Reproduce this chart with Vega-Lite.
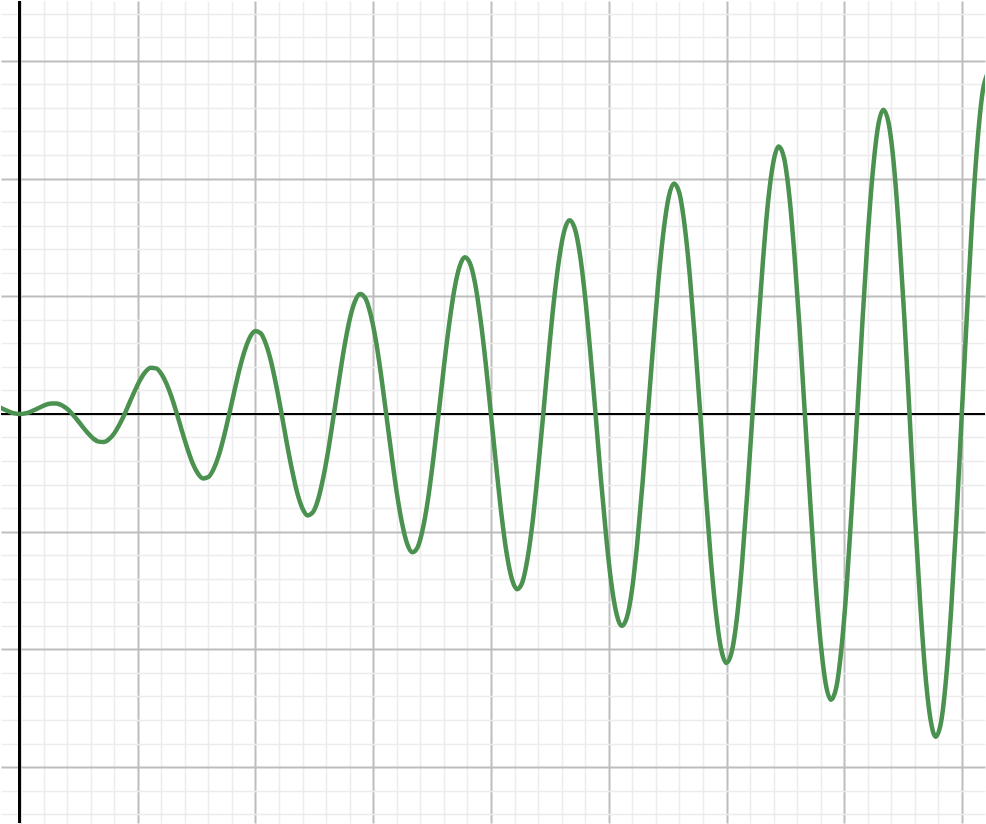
{
"$schema": "https://vega.github.io/schema/vega-lite/v6.json",
"width": 986, "height": 824,
"autosize": {"type": "fit", "contains": "padding"},
"padding": 0,
"background": "white",
"config": {"view": {"stroke": null}},
"data": {"values": [
{"x":-0.178,"y":0.0596},{"x":-0.133,"y":0.0380},{"x":-0.089,"y":0.0184},{"x":-0.044,"y":0.0048},
{"x":0,"y":0},{"x":0.044,"y":0.0048},{"x":0.089,"y":0.0184},{"x":0.133,"y":0.0380},{"x":0.178,"y":0.0596},
{"x":0.222,"y":0.0783},{"x":0.267,"y":0.0894},{"x":0.311,"y":0.0887},{"x":0.355,"y":0.0737},{"x":0.400,"y":0.0436},
{"x":0.444,"y":0},{"x":0.489,"y":-0.0533},{"x":0.533,"y":-0.1105},{"x":0.578,"y":-0.1648},{"x":0.622,"y":-0.2086},
{"x":0.667,"y":-0.2350},{"x":0.711,"y":-0.2384},{"x":0.755,"y":-0.2155},{"x":0.800,"y":-0.1658},{"x":0.844,"y":-0.0920},
{"x":0.889,"y":0},{"x":0.933,"y":0.1017},{"x":0.978,"y":0.2026},{"x":1.022,"y":0.2915},{"x":1.066,"y":0.3576},
{"x":1.111,"y":0.3917},{"x":1.155,"y":0.3874},{"x":1.200,"y":0.3423},{"x":1.244,"y":0.2579},{"x":1.289,"y":0.1404},
{"x":1.333,"y":0},{"x":1.377,"y":-0.1501},{"x":1.422,"y":-0.2947},{"x":1.466,"y":-0.4183},{"x":1.511,"y":-0.5066},
{"x":1.555,"y":-0.5484},{"x":1.600,"y":-0.5364},{"x":1.644,"y":-0.4690},{"x":1.689,"y":-0.3500},{"x":1.733,"y":-0.1888},
{"x":1.777,"y":0},{"x":1.822,"y":0.1985},{"x":1.866,"y":0.3868},{"x":1.911,"y":0.5451},{"x":1.955,"y":0.6556},
{"x":2.000,"y":0.7051},{"x":2.044,"y":0.6854},{"x":2.088,"y":0.5958},{"x":2.133,"y":0.4421},{"x":2.177,"y":0.2373},
{"x":2.222,"y":0},{"x":2.266,"y":-0.2469},{"x":2.311,"y":-0.4789},{"x":2.355,"y":-0.6718},{"x":2.400,"y":-0.8047},
{"x":2.444,"y":-0.8617},{"x":2.488,"y":-0.8345},{"x":2.533,"y":-0.7225},{"x":2.577,"y":-0.5342},{"x":2.622,"y":-0.2857},
{"x":2.666,"y":0},{"x":2.711,"y":0.2954},{"x":2.755,"y":0.5710},{"x":2.799,"y":0.7986},{"x":2.844,"y":0.9537},
{"x":2.888,"y":1.0184},{"x":2.933,"y":0.9835},{"x":2.977,"y":0.8493},{"x":3.022,"y":0.6263},{"x":3.066,"y":0.3341},
{"x":3.110,"y":0},{"x":3.155,"y":-0.3438},{"x":3.199,"y":-0.6631},{"x":3.244,"y":-0.9253},{"x":3.288,"y":-1.1027},
{"x":3.333,"y":-1.1751},{"x":3.377,"y":-1.1325},{"x":3.421,"y":-0.9761},{"x":3.466,"y":-0.7184},{"x":3.510,"y":-0.3825},
{"x":3.555,"y":0},{"x":3.599,"y":0.3922},{"x":3.644,"y":0.7552},{"x":3.688,"y":1.0521},{"x":3.733,"y":1.2517},
{"x":3.777,"y":1.3318},{"x":3.821,"y":1.2815},{"x":3.866,"y":1.1028},{"x":3.910,"y":0.8105},{"x":3.955,"y":0.4309},
{"x":3.999,"y":0},{"x":4.044,"y":-0.4406},{"x":4.088,"y":-0.8473},{"x":4.132,"y":-1.1789},{"x":4.177,"y":-1.4007},
{"x":4.221,"y":-1.4885},{"x":4.266,"y":-1.4305},{"x":4.310,"y":-1.2296},{"x":4.355,"y":-0.9026},{"x":4.399,"y":-0.4794},
{"x":4.444,"y":0},{"x":4.488,"y":0.4890},{"x":4.532,"y":0.9394},{"x":4.577,"y":1.3056},{"x":4.621,"y":1.5497},
{"x":4.666,"y":1.6451},{"x":4.710,"y":1.5795},{"x":4.755,"y":1.3563},{"x":4.799,"y":0.9947},{"x":4.843,"y":0.5278},
{"x":4.888,"y":0},{"x":4.932,"y":-0.5375},{"x":4.977,"y":-1.0315},{"x":5.021,"y":-1.4324},{"x":5.066,"y":-1.6987},
{"x":5.110,"y":-1.8018},{"x":5.154,"y":-1.7285},{"x":5.199,"y":-1.4831},{"x":5.243,"y":-1.0868},{"x":5.288,"y":-0.5762},
{"x":5.332,"y":0},{"x":5.377,"y":0.5859},{"x":5.421,"y":1.1236},{"x":5.466,"y":1.5591},{"x":5.510,"y":1.8477},
{"x":5.554,"y":1.9585},{"x":5.599,"y":1.8775},{"x":5.643,"y":1.6099},{"x":5.688,"y":1.1789},{"x":5.732,"y":0.6246},
{"x":5.777,"y":0},{"x":5.821,"y":-0.6343},{"x":5.865,"y":-1.2157},{"x":5.910,"y":-1.6859},{"x":5.954,"y":-1.9967},
{"x":5.999,"y":-2.1152},{"x":6.043,"y":-2.0265},{"x":6.088,"y":-1.7366},{"x":6.132,"y":-1.2710},{"x":6.176,"y":-0.6730},
{"x":6.221,"y":0},{"x":6.265,"y":0.6827},{"x":6.310,"y":1.3078},{"x":6.354,"y":1.8127},{"x":6.399,"y":2.1457},
{"x":6.443,"y":2.2719},{"x":6.488,"y":2.1755},{"x":6.532,"y":1.8634},{"x":6.576,"y":1.3631},{"x":6.621,"y":0.7215},
{"x":6.665,"y":0},{"x":6.710,"y":-0.7311},{"x":6.754,"y":-1.3999},{"x":6.799,"y":-1.9394},{"x":6.843,"y":-2.2948},
{"x":6.887,"y":-2.4285},{"x":6.932,"y":-2.3246},{"x":6.976,"y":-1.9901},{"x":7.021,"y":-1.4552},{"x":7.065,"y":-0.7699},
{"x":7.110,"y":0},{"x":7.154,"y":0.7796},{"x":7.198,"y":1.4920},{"x":7.243,"y":2.0662},{"x":7.287,"y":2.4438},
{"x":7.332,"y":2.5852},{"x":7.376,"y":2.4736},{"x":7.421,"y":2.1169},{"x":7.465,"y":1.5473},{"x":7.510,"y":0.8183},
{"x":7.554,"y":0},{"x":7.598,"y":-0.8280},{"x":7.643,"y":-1.5841},{"x":7.687,"y":-2.1929},{"x":7.732,"y":-2.5928},
{"x":7.776,"y":-2.7419},{"x":7.821,"y":-2.6226},{"x":7.865,"y":-2.2437},{"x":7.909,"y":-1.6394},{"x":7.954,"y":-0.8667},
{"x":7.998,"y":0},{"x":8.043,"y":0.8764},{"x":8.087,"y":1.6762},{"x":8.132,"y":2.3197},{"x":8.176,"y":2.7418},
{"x":8.220,"y":2.8986}
]},
"layer": [
 {"mark": {"type": "rule", "color": "black", "strokeWidth": 2},
  "encoding": {"x": {"datum": 0, "type": "quantitative"}}},
 {"mark": {"type": "rule", "color": "black", "strokeWidth": 2},
  "encoding": {"y": {"datum": 0, "type": "quantitative"}}},
 {"mark": {"type": "line", "interpolate": "monotone", "color": "#4b9150", "strokeWidth": 4.5, "strokeCap": "round", "strokeJoin": "round", "clip": true},
  "encoding": {
   "x": {"field": "x", "type": "quantitative",
     "scale": {"domain": [-0.161, 8.195], "nice": false, "zero": false},
     "axis": {"title": null, "labels": false, "ticks": false, "domain": false, "grid": true, "tickCount": 200,
       "values": [0,0.2,0.4,0.6,0.8,1,1.2,1.4,1.6,1.8,2,2.2,2.4,2.6,2.8,3,3.2,3.4,3.6,3.8,4,4.2,4.4,4.6,4.8,5,5.2,5.4,5.6,5.8,6,6.2,6.4,6.6,6.8,7,7.2,7.4,7.6,7.8,8],
       "gridColor": {"condition": {"test": "abs(datum.value - round(datum.value)) < 0.01", "value": "#bdbdbd"}, "value": "#ececec"},
       "gridWidth": {"condition": {"test": "abs(datum.value - round(datum.value)) < 0.01", "value": 2}, "value": 1.5}}},
   "y": {"field": "y", "type": "quantitative",
     "scale": {"domain": [-3.475, 3.508], "nice": false, "zero": false},
     "axis": {"title": null, "labels": false, "ticks": false, "domain": false, "grid": true, "tickCount": 200,
       "values": [-3.4,-3.2,-3,-2.8,-2.6,-2.4,-2.2,-2,-1.8,-1.6,-1.4,-1.2,-1,-0.8,-0.6,-0.4,-0.2,0,0.2,0.4,0.6,0.8,1,1.2,1.4,1.6,1.8,2,2.2,2.4,2.6,2.8,3,3.2,3.4],
       "gridColor": {"condition": {"test": "abs(datum.value - round(datum.value)) < 0.01", "value": "#bdbdbd"}, "value": "#ececec"},
       "gridWidth": {"condition": {"test": "abs(datum.value - round(datum.value)) < 0.01", "value": 2}, "value": 1.5}}}
  }}
]
}
